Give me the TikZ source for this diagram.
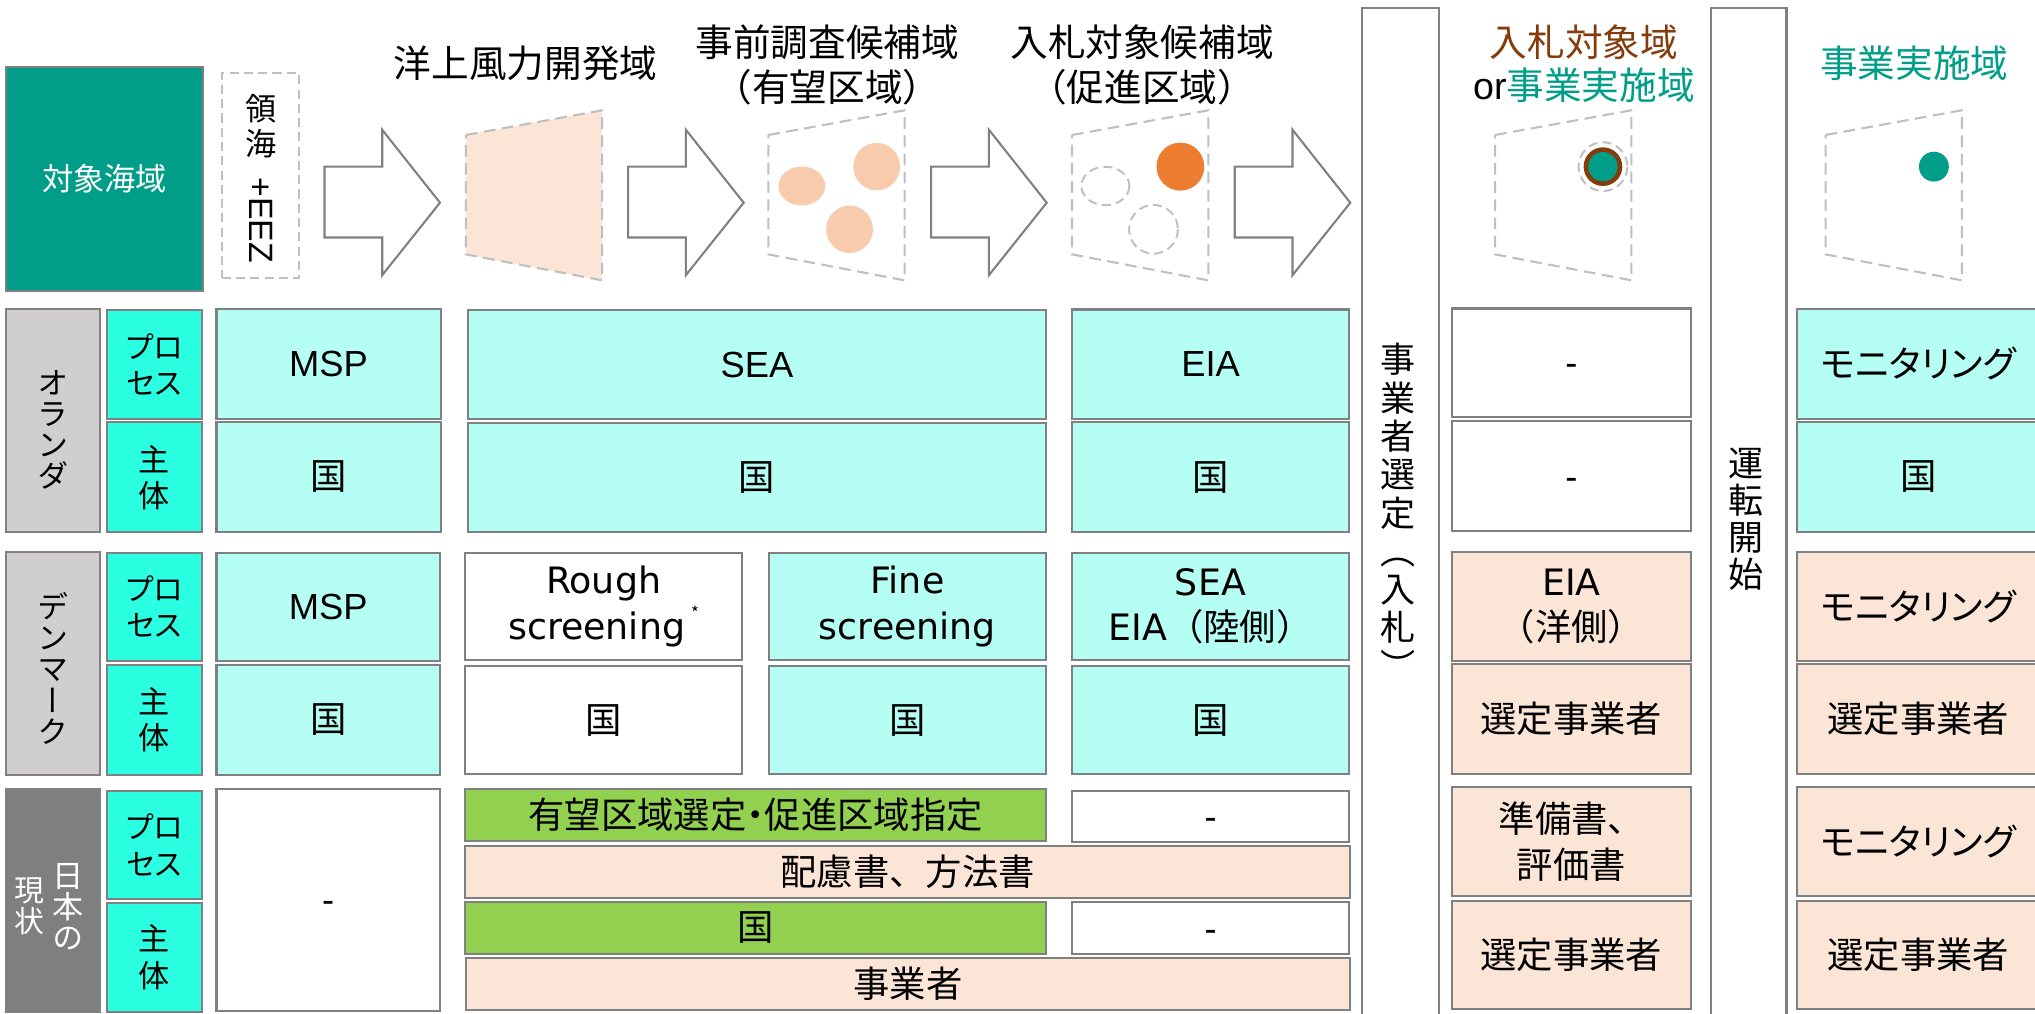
\documentclass[tikz,border=0pt]{standalone}
\usepackage{fontspec}
\setmainfont{Noto Sans CJK JP}
\newfontfamily\pj{Noto Sans CJK JP}[RawFeature=+palt]
\newfontfamily\vj{Noto Sans CJK JP}[RawFeature=+vert]
\newfontfamily\arl{Liberation Sans}
\newfontfamily\dvs{DejaVu Sans}
\definecolor{teal1}{HTML}{009E88}
\definecolor{cyanL}{HTML}{B4FEF3}
\definecolor{aquaH}{HTML}{2AFFE1}
\definecolor{grayL}{HTML}{D0CECE}
\definecolor{grayD}{HTML}{7F7F7F}
\definecolor{peach}{HTML}{FBE5D6}
\definecolor{greenC}{HTML}{92D050}
\definecolor{orangeD}{HTML}{ED7D31}
\definecolor{orangeL}{HTML}{F8CBAD}
\definecolor{brownT}{HTML}{843C0C}
\definecolor{bord}{HTML}{808080}
\definecolor{dashg}{HTML}{BFBFBF}
\tikzset{
  cell/.style={draw=bord, line width=1.6pt, inner sep=0pt, outer sep=0pt, align=center, font=\fontsize{28}{35}\selectfont},
  cyc/.style={cell, fill=cyanL},
  whc/.style={cell, fill=white},
  pec/.style={cell, fill=peach},
  grc/.style={cell, fill=greenC},
  hdc/.style={cell, fill=aquaH, font=\pj\fontsize{23}{28}\selectfont},
  labc/.style={cell, fill=grayL},
  tallc/.style={draw=bord, line width=1.6pt, fill=white, inner sep=0pt, outer sep=0pt},
  vl/.style={font=\vj\fontsize{24}{24}\selectfont, align=center, inner sep=0pt},
  vtxt/.style={font=\vj\fontsize{27}{29.5}\selectfont, align=center, inner sep=0pt},
  ttl/.style={font=\fontsize{29}{35}\selectfont, align=center, inner sep=0pt},
  blkarr/.style={draw=bord, line width=1.6pt, fill=white, line join=miter},
  trapz/.style={draw=dashg, line width=1.6pt, dash pattern=on 9pt off 5pt},
  dcirc/.style={draw=dashg, line width=1.5pt, dash pattern=on 7pt off 4pt},
}
\newcommand\Cell[7]{%
  \pgfmathsetmacro\CellCX{(#2+#4)/2}\pgfmathsetmacro\CellCY{(#3+#5)/2}%
  \pgfmathsetmacro\CellW{#4-#2}\pgfmathsetmacro\CellH{#5-#3}%
  \node[#6, minimum width=\CellW pt, minimum height=\CellH pt] (#1) at (\CellCX,\CellCY) {#7};}
\newcommand\Dash{\vphantom{国}{\arl -}}
\newcommand\BlkArrow[1]{\draw[blkarr] (#1,128.4) -- (#1+44.5,128.4) -- (#1+44.5,100) -- (#1+89,156.2) -- (#1+44.5,212) -- (#1+44.5,183) -- (#1,183) -- cycle;}
\newcommand\Trap[2]{\draw[trapz,#2] (#1,104) -- (#1+105,85) -- (#1+105,216) -- (#1,196) -- cycle;}
\begin{document}
\begin{tikzpicture}[x=1pt,y=-1pt]
\useasboundingbox (0,0) rectangle (1568,781);
\clip (0,0) rectangle (1568,781);
\fill[white] (0,0) rectangle (1568,781);

% tall separator boxes
\Cell{sel}{1049.7}{6.4}{1109}{800}{tallc}{}
\Cell{ope}{1318}{6.4}{1376.5}{800}{tallc}{}
\node[vtxt] (selT) at (1077,394) {事\\業\\者\\選\\定\\（\\入\\札\\）};
\node[vtxt, font=\vj\fontsize{27}{28.4}\selectfont] (opeT) at (1345,400) {運\\転\\開\\始};

% top row
\Cell{tgt}{4.5}{51.4}{156.5}{224}{cell, fill=teal1, text=white, font=\fontsize{24}{28}\selectfont}{対象海域}
\Cell{eez}{170.8}{56.5}{230.4}{214.4}{draw=dashg, line width=1.5pt, dash pattern=on 7pt off 4pt, inner sep=0pt}{}
\node[vl, font=\fontsize{24}{27.5}\selectfont] (eezA) at (200.8,97.2) {領\\海};
\node[rotate=-90, inner sep=0pt, font=\arl\fontsize{26}{26}\selectfont] (eezB) at (201.5,169.5) {+EEZ};

\BlkArrow{250}
\BlkArrow{484}
\BlkArrow{717.5}
\BlkArrow{951.4}

\Trap{359}{fill=peach}
\Trap{592}{}
\Trap{826}{}
\Trap{1152}{}
\Trap{1406.6}{}

\fill[orangeL] (617.8,143.3) ellipse [x radius=18, y radius=15];
\fill[orangeL] (675.5,128.4) ellipse [x radius=18, y radius=18.3];
\fill[orangeL] (654.6,176.7) ellipse [x radius=18, y radius=18.3];
\draw[dcirc] (851.7,143.3) ellipse [x radius=18.5, y radius=14.8];
\draw[dcirc] (888.8,176.7) ellipse [x radius=18.8, y radius=18.8];
\fill[orangeD] (909.5,128.4) ellipse [x radius=18.4, y radius=18.5];
\draw[dcirc] (1235.1,128.4) circle [radius=18.8];
\fill[brownT] (1235.1,128.4) circle [radius=14.9];
\fill[teal1] (1235.1,128.4) circle [radius=11.3];
\fill[teal1] (1490.1,128.4) circle [radius=11.5];

\node[ttl] (t1) at (405,49) {洋上風力開発域};
\node[ttl] (t2) at (637.5,50) {事前調査候補域\\（有望区域）};
\node[ttl] (t3) at (880,50) {入札対象候補域\\（促進区域）};
\node[ttl, font=\fontsize{29}{33.5}\selectfont] (t4) at (1220.5,49) {\textcolor{brownT}{入札対象域}\\{\arl or}\textcolor{teal1}{事業実施域}};
\node[ttl, text=teal1] (t5) at (1475,49) {事業実施域};

% Netherlands
\Cell{nlL}{4.5}{238.4}{77.4}{410.2}{labc}{}
\node[vl] (nlT) at (40.6,331) {オ\\ラ\\ン\\ダ};
\Cell{nlP}{82.6}{238.9}{155.5}{322.9}{hdc}{プロ\\セス}
\Cell{nlS}{82.6}{325.5}{155.5}{410.2}{hdc, font=\fontsize{24}{28}\selectfont}{主\\体}
\Cell{nlMSP}{166.8}{238}{339.5}{322.5}{cyc}{\arl MSP}
\Cell{nlMSPa}{166.8}{325}{339.5}{410}{cyc}{国}
\Cell{nlSEA}{360.5}{239}{806}{322.9}{cyc}{\arl SEA}
\Cell{nlSEAa}{360.5}{326}{806}{410}{cyc}{国}
\Cell{nlEIA}{826}{238.5}{1039.5}{322.5}{cyc}{\arl EIA}
\Cell{nlEIAa}{826}{325.5}{1039.5}{410}{cyc}{国}
\Cell{nlBid}{1118.6}{237.7}{1303}{321.2}{whc}{\Dash}
\Cell{nlBida}{1118.6}{324.7}{1303}{409}{whc}{\Dash}
\Cell{nlMon}{1384.3}{238}{1572}{322.5}{cyc}{\pj モニタリング}
\Cell{nlMona}{1384.3}{325}{1572}{410}{cyc}{国}

% Denmark
\Cell{dkL}{4.5}{425.1}{77.4}{597.2}{labc}{}
\node[vl] (dkT) at (40.6,515) {デ\\ン\\マ\\ー\\ク};
\Cell{dkP}{82.6}{425.9}{155.5}{509.1}{hdc}{プロ\\セス}
\Cell{dkS}{82.6}{512.4}{155.5}{597}{hdc, font=\fontsize{24}{28}\selectfont}{主\\体}
\Cell{dkMSP}{166.8}{425.9}{339}{509.5}{cyc}{\arl MSP}
\Cell{dkMSPa}{166.8}{512.4}{339}{597}{cyc}{国}
\Cell{dkR}{358.6}{425.9}{571.5}{508.5}{whc}{{\dvs Rough}\\{\dvs screening}\,\raisebox{0.55em}{\fontsize{13}{13}\selectfont *}}
\Cell{dkRa}{358.6}{513.2}{571.5}{596.4}{whc}{国}
\Cell{dkF}{592.5}{425.9}{805.9}{508.5}{cyc}{{\dvs Fine}\\{\dvs screening}}
\Cell{dkFa}{592.5}{513.2}{805.9}{596.4}{cyc}{国}
\Cell{dkE}{826}{425.9}{1039.3}{508.5}{cyc}{{\dvs SEA}\\{\dvs EIA}（陸側）}
\Cell{dkEa}{826}{513.2}{1039.3}{596.4}{cyc}{国}
\Cell{dkB}{1118.6}{425.2}{1303}{509.4}{pec}{{\dvs EIA}\\（洋側）}
\Cell{dkBa}{1118.6}{511.8}{1303}{596.4}{pec}{選定事業者}
\Cell{dkMon}{1384.3}{425.2}{1572}{509.4}{pec}{\pj モニタリング}
\Cell{dkMona}{1384.3}{511.8}{1572}{596.4}{pec}{選定事業者}

% Japan
\Cell{jpL}{4.5}{608}{77.4}{779.5}{cell, fill=grayD}{}
\node[vl, text=white] (jpT1) at (52.3,698.5) {日\\本\\の};
\node[vl, text=white, font=\vj\fontsize{23}{24}\selectfont] (jpT2) at (22.4,698.2) {現\\状};
\Cell{jpP}{82.6}{609.2}{155.5}{693}{hdc}{プロ\\セス}
\Cell{jpS}{82.6}{695.5}{155.5}{779.5}{hdc, font=\fontsize{24}{28}\selectfont}{主\\体}
\Cell{jpMSP}{166.8}{608}{339}{778.7}{whc}{\Dash}
\Cell{jpG1}{358.6}{607.9}{805.9}{648}{grc}{\pj 有望区域選定・促進区域指定}
\Cell{jpW1}{826}{609.2}{1039.5}{648.5}{whc}{\Dash}
\Cell{jpP1}{358.6}{651.6}{1040}{691.7}{pec}{配慮書、方法書}
\Cell{jpG2}{358.6}{694.7}{805.9}{735}{grc}{国}
\Cell{jpW2}{826}{695.3}{1039.5}{735}{whc}{\Dash}
\Cell{jpP2}{359}{738.4}{1040}{778.2}{pec}{事業者}
\Cell{jpB}{1118.6}{606.3}{1303}{690.5}{pec}{準備書、\\評価書}
\Cell{jpBa}{1118.6}{694}{1303}{777.5}{pec}{選定事業者}
\Cell{jpMon}{1384.3}{606.3}{1572}{690.5}{pec}{\pj モニタリング}
\Cell{jpMona}{1384.3}{694}{1572}{777.5}{pec}{選定事業者}
\end{tikzpicture}
\end{document}
